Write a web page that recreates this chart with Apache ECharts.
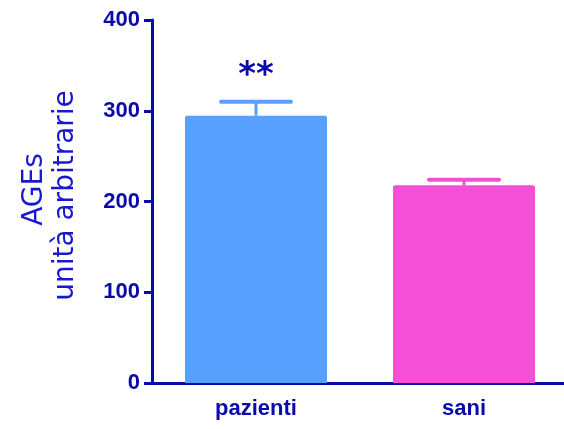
<!DOCTYPE html>
<html>
<head>
<meta charset="utf-8">
<script src="https://cdn.jsdelivr.net/npm/echarts@6/dist/echarts.min.js"></script>
<style>html,body{margin:0;padding:0;background:#fff;overflow:hidden}#c{width:572px;height:429px}</style>
</head>
<body>
<div id="c"></div>
<script>
const categories = ['pazienti', 'sani'];
const means = [294.5, 218];
const errTops = [310, 224];
const significance = ['**', ''];
const barColors = ['#58a0fd', '#f54fd6'];
const yTicks = [0, 100, 200, 300, 400];

const axisColor = '#0a0aaa';
const chart = echarts.init(document.getElementById('c'), null, {renderer: 'canvas'});
chart.setOption({
  animation: false,
  grid: {left: 152, right: 4, top: 20, bottom: 46},
  xAxis: {
    type: 'category',
    data: categories,
    axisLine: {lineStyle: {color: axisColor, width: 3}},
    axisTick: {alignWithLabel: true, length: 10, lineStyle: {color: axisColor, width: 3}},
    axisLabel: {margin: 15, color: axisColor, fontWeight: 'bold', fontSize: 22, fontFamily: 'Liberation Sans Narrow, Liberation Sans, Arial'}
  },
  yAxis: {
    type: 'value',
    min: yTicks[0], max: yTicks[yTicks.length - 1], interval: 100,
    splitLine: {show: false},
    axisLine: {show: true, lineStyle: {color: axisColor, width: 3}},
    axisTick: {show: true, length: 8, lineStyle: {color: axisColor, width: 3}},
    axisLabel: {margin: 12, color: axisColor, fontWeight: 'bold', fontSize: 22, fontFamily: 'Liberation Sans Narrow, Liberation Sans, Arial'},
    name: '{a|AGEs}\n{b|unità arbitrarie}',
    nameLocation: 'middle',
    nameRotate: 90,
    nameGap: 71,
    nameTextStyle: {
      color: '#1818cc', fontSize: 28, lineHeight: 31, fontFamily: 'DejaVu Sans, Liberation Sans', align: 'center',
      rich: {
        a: {color: '#1818cc', fontSize: 28, lineHeight: 31, fontFamily: 'DejaVu Sans, Liberation Sans', padding: [0, 0, 0, 24]},
        b: {color: '#1818cc', fontSize: 28, lineHeight: 31, fontFamily: 'DejaVu Sans, Liberation Sans', padding: [0, 0, 0, 12]}
      }
    }
  },
  series: [
    {
      type: 'bar',
      barWidth: 142,
      data: means.map((v, i) => ({value: v, itemStyle: {color: barColors[i], borderRadius: [2, 2, 0, 0]}})),
      z: 2
    },
    {
      type: 'custom',
      z: 3,
      data: means.map((v, i) => [i, v, errTops[i]]),
      renderItem: function (params, api) {
        const i = api.value(0);
        const base = api.coord([i, api.value(1)]);
        const top = api.coord([i, api.value(2)]);
        const half = 35;
        const col = barColors[i];
        const children = [
          {type: 'line', shape: {x1: base[0], y1: base[1], x2: top[0], y2: top[1]}, style: {stroke: col, lineWidth: 3}},
          {type: 'line', shape: {x1: top[0] - half, y1: top[1], x2: top[0] + half, y2: top[1]}, style: {stroke: col, lineWidth: 4, lineCap: 'round'}}
        ];
        if (significance[i]) {
          children.push({type: 'text', style: {x: top[0], y: top[1] - 9, text: significance[i], align: 'center', verticalAlign: 'bottom', fill: axisColor, font: 'bold 34px "DejaVu Sans", "Liberation Sans", Arial'}});
        }
        return {type: 'group', children: children};
      }
    }
  ]
});
</script>
</body>
</html>
